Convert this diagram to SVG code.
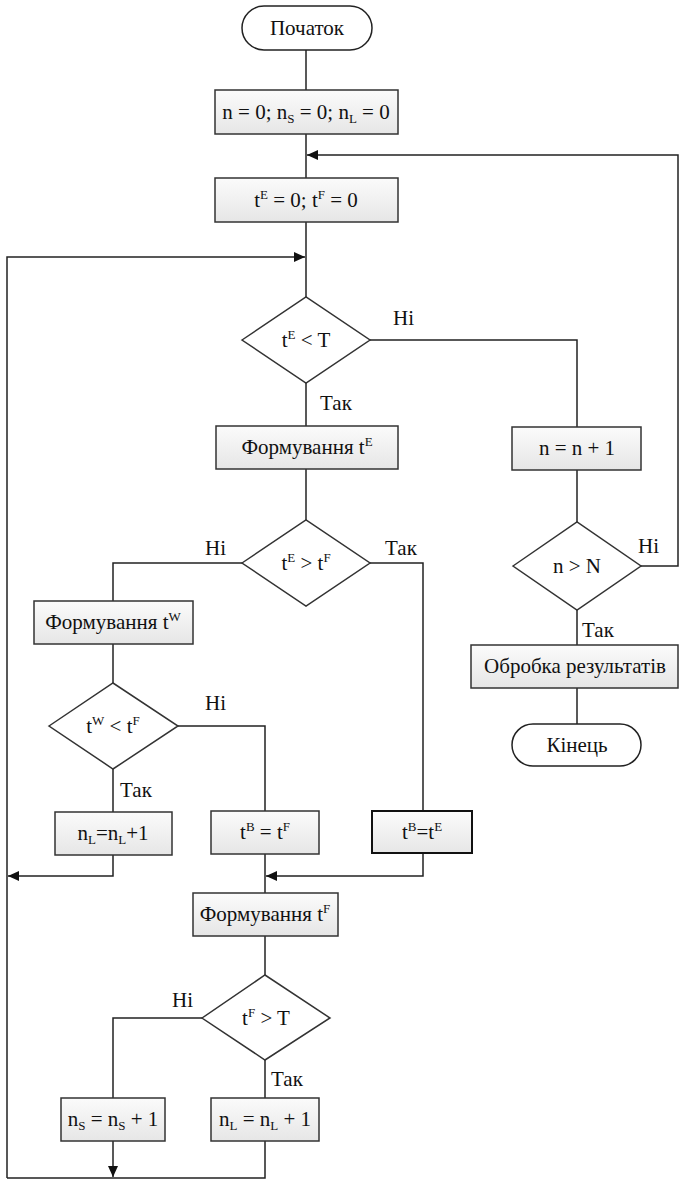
<svg xmlns="http://www.w3.org/2000/svg" width="679" height="1179" viewBox="0 0 679 1179">
<defs>
<linearGradient id="g" x1="0" y1="0" x2="0" y2="1">
<stop offset="0" stop-color="#fbfbfb"/>
<stop offset="1" stop-color="#e6e6e6"/>
</linearGradient>
<marker id="a" markerUnits="userSpaceOnUse" markerWidth="12" markerHeight="10" refX="11" refY="5" orient="auto">
<path d="M0,0 L11,5 L0,10 z" fill="#111"/>
</marker>
</defs>
<style>
.box{fill:url(#g);stroke:#333;stroke-width:1.5}
.term{fill:#fff;stroke:#222;stroke-width:1.5}
.dia{fill:#fff;stroke:#333;stroke-width:1.5}
.c{fill:none;stroke:#222;stroke-width:1.5}
text{font-family:"Liberation Serif","Times New Roman","DejaVu Serif",serif;font-size:21px;fill:#111}
.m{text-anchor:middle}
.s{font-size:13px}
</style>
<g id="connectors">
<path class="c" d="M306,50 V90"/>
<path class="c" d="M306,134 V178"/>
<path class="c" d="M641,566 H678 V155 H307" marker-end="url(#a)"/>
<path class="c" d="M306,222 V297"/>
<path class="c" d="M7,1178 V257 H305" marker-end="url(#a)"/>
<path class="c" d="M370,340 H577 V427"/>
<path class="c" d="M306,383 V426"/>
<path class="c" d="M577,470 V522"/>
<path class="c" d="M577,610 V645"/>
<path class="c" d="M577,688 V724"/>
<path class="c" d="M306,469 V520"/>
<path class="c" d="M242,563 H113 V601"/>
<path class="c" d="M370,563 H423 V811"/>
<path class="c" d="M113,644 V683"/>
<path class="c" d="M178,726 H265 V811"/>
<path class="c" d="M113,769 V812"/>
<path class="c" d="M113,855 V876 H8" marker-end="url(#a)"/>
<path class="c" d="M423,853 V876 H266" marker-end="url(#a)"/>
<path class="c" d="M265,854 V893"/>
<path class="c" d="M265,936 V975"/>
<path class="c" d="M202,1018 H113 V1098"/>
<path class="c" d="M265,1060 V1098"/>
<path class="c" d="M113,1141 V1177" marker-end="url(#a)"/>
<path class="c" d="M265,1141 V1178 H7"/>
</g>
<g id="start">
<rect class="term" x="242" y="6" width="130" height="44" rx="22"/>
<text class="m" x="307" y="35">Початок</text>
</g>
<g id="init">
<rect class="box" x="215" y="90" width="183" height="44"/>
<text class="m" x="306" y="119">n = 0; n<tspan class="s" dy="4">S</tspan><tspan dy="-4"> = 0; n</tspan><tspan class="s" dy="4">L</tspan><tspan dy="-4"> = 0</tspan></text>
</g>
<g id="initT">
<rect class="box" x="215" y="178" width="183" height="44"/>
<text class="m" x="306" y="207">t<tspan class="s" dy="-8">E</tspan><tspan dy="8"> = 0; t</tspan><tspan class="s" dy="-8">F</tspan><tspan dy="8"> = 0</tspan></text>
</g>
<g id="d1">
<polygon class="dia" points="242,340 306,297 370,340 306,383"/>
<text class="m" x="306" y="347">t<tspan class="s" dy="-8">E</tspan><tspan dy="8"> &lt; T</tspan></text>
<text x="393" y="325">Ні</text>
<text x="320" y="410">Так</text>
</g>
<g id="formE">
<rect class="box" x="216" y="426" width="182" height="43"/>
<text class="m" x="307" y="454">Формування t<tspan class="s" dy="-8">E</tspan></text>
</g>
<g id="inc">
<rect class="box" x="512" y="427" width="129" height="43"/>
<text class="m" x="577" y="455">n = n + 1</text>
</g>
<g id="d2">
<polygon class="dia" points="513,566 577,522 641,566 577,610"/>
<text class="m" x="577" y="573">n &gt; N</text>
<text x="638" y="553">Ні</text>
<text x="582" y="637">Так</text>
</g>
<g id="proc">
<rect class="box" x="471" y="645" width="207" height="43"/>
<text class="m" x="575" y="673">Обробка результатів</text>
</g>
<g id="end">
<rect class="term" x="512" y="724" width="129" height="42" rx="21"/>
<text class="m" x="577" y="752">Кінець</text>
</g>
<g id="d3">
<polygon class="dia" points="242,563 306,520 370,563 306,606"/>
<text class="m" x="306" y="570">t<tspan class="s" dy="-8">E</tspan><tspan dy="8"> &gt; t</tspan><tspan class="s" dy="-8">F</tspan></text>
<text x="205" y="555">Ні</text>
<text x="385" y="555">Так</text>
</g>
<g id="formW">
<rect class="box" x="34" y="601" width="159" height="43"/>
<text class="m" x="113" y="629">Формування t<tspan class="s" dy="-8">W</tspan></text>
</g>
<g id="d4">
<polygon class="dia" points="49,726 113,683 178,726 113,769"/>
<text class="m" x="113" y="733">t<tspan class="s" dy="-8">W</tspan><tspan dy="8"> &lt; t</tspan><tspan class="s" dy="-8">F</tspan></text>
<text x="205" y="710">Ні</text>
<text x="120" y="797">Так</text>
</g>
<g id="nL1">
<rect class="box" x="55" y="812" width="117" height="43"/>
<text class="m" x="113" y="840">n<tspan class="s" dy="4">L</tspan><tspan dy="-4">=n</tspan><tspan class="s" dy="4">L</tspan><tspan dy="-4">+1</tspan></text>
</g>
<g id="tBF">
<rect class="box" x="211" y="811" width="108" height="43"/>
<text class="m" x="265" y="839">t<tspan class="s" dy="-8">B</tspan><tspan dy="8"> = t</tspan><tspan class="s" dy="-8">F</tspan></text>
</g>
<g id="tBE">
<rect class="box" x="372" y="811" width="100" height="42" style="stroke:#111;stroke-width:2"/>
<text class="m" x="422" y="839">t<tspan class="s" dy="-8">B</tspan><tspan dy="8">=t</tspan><tspan class="s" dy="-8">E</tspan></text>
</g>
<g id="formF">
<rect class="box" x="193" y="893" width="145" height="43"/>
<text class="m" x="265" y="921">Формування t<tspan class="s" dy="-8">F</tspan></text>
</g>
<g id="d5">
<polygon class="dia" points="202,1018 265,975 330,1018 265,1060"/>
<text class="m" x="266" y="1025">t<tspan class="s" dy="-8">F</tspan><tspan dy="8"> &gt; T</tspan></text>
<text x="172" y="1007">Ні</text>
<text x="271" y="1086">Так</text>
</g>
<g id="nS">
<rect class="box" x="61" y="1098" width="104" height="43"/>
<text class="m" x="113" y="1126">n<tspan class="s" dy="4">S</tspan><tspan dy="-4"> = n</tspan><tspan class="s" dy="4">S</tspan><tspan dy="-4"> + 1</tspan></text>
</g>
<g id="nL2">
<rect class="box" x="211" y="1098" width="108" height="43"/>
<text class="m" x="265" y="1126">n<tspan class="s" dy="4">L</tspan><tspan dy="-4"> = n</tspan><tspan class="s" dy="4">L</tspan><tspan dy="-4"> + 1</tspan></text>
</g>
</svg>
